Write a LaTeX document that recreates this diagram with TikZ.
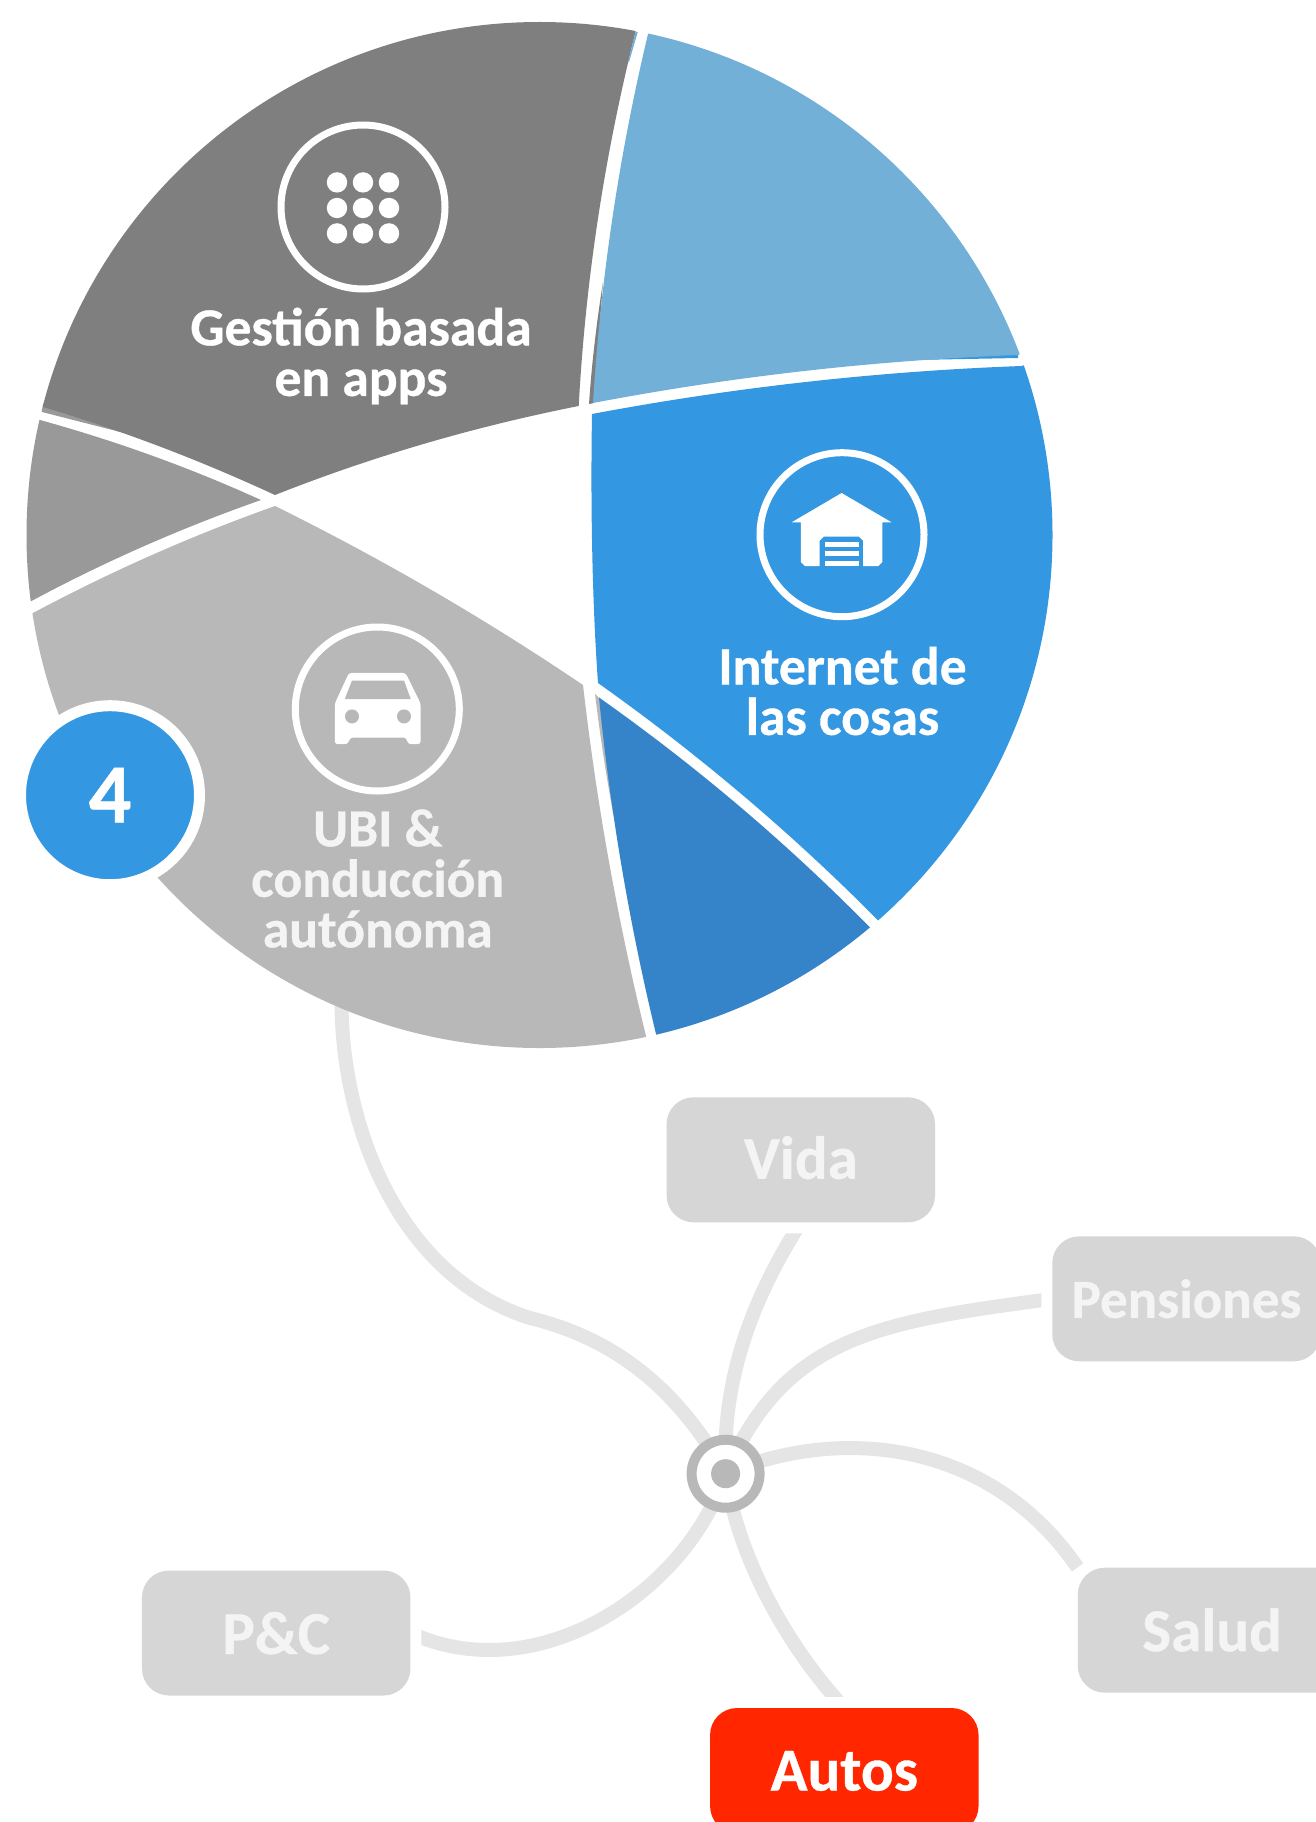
\documentclass[tikz,border=0pt]{standalone}
\usepackage{fontspec}
\setmainfont[BoldFeatures={FakeBold=0.6}]{Carlito}
\usetikzlibrary{backgrounds}
\definecolor{cDark}{HTML}{7F7F7F}
\definecolor{cMid}{HTML}{999999}
\definecolor{cLight}{HTML}{B8B8B8}
\definecolor{cBlue}{HTML}{3397E1}
\definecolor{cBlueD}{HTML}{3583C9}
\definecolor{cBlueL}{HTML}{72B0D8}
\definecolor{cBox}{HTML}{D6D6D6}
\definecolor{cLine}{HTML}{E5E5E5}
\definecolor{cRed}{HTML}{FF2600}
\definecolor{cText}{HTML}{F4F4F4}
\tikzset{
  iconring/.style={circle,draw=white,line width=7pt,minimum size=164pt,inner sep=0pt},
  pielabel/.style={align=center,text=white,font=\bfseries\fontsize{53.6}{50.5}\selectfont,inner sep=0pt},
  catbox/.style={rectangle,rounded corners=27pt,minimum width=268.5pt,minimum height=125pt,inner sep=0pt,
    fill=cBox,text=cText,text height=38pt,text depth=0pt,font=\bfseries\fontsize{61}{61}\selectfont,
    preaction={draw=white,line width=22pt}},
  conn/.style={draw=cLine,line width=14pt},
}
\begin{document}
\begin{tikzpicture}[x=1pt,y=-1pt]
\useasboundingbox (0,0) rectangle (1316,1822);

% ---- pie slices ----
\begin{scope}
\clip (539.5,535) circle[radius=513];
% slivers under the slices
\fill[cDark] (589,404) .. controls (592,360) and (597,320) .. (603,282) -- (594,403) -- cycle;
\fill[cBlue] (1018,351) .. controls (970,353) and (920,356) .. (860,361) -- (1018,358) -- cycle;
\fill[cMid] (40,402) .. controls (75,413) and (110,425) .. (140,437) -- (42,412) -- cycle;
\fill[cLight] (595,694) .. controls (600,735) and (606,775) .. (613.6,816) -- (601,700) -- cycle;
% dark grey
\fill[cDark] (635.5,32) .. controls (604.6,155) and (585.6,279.5) .. (578.7,406)
  .. controls (475,426.5) and (373.5,456) .. (275,495)
  .. controls (199.5,460) and (122,430.5) .. (43,407)
  -- (-100,370) -- (-100,-100) -- (661,-100) -- cycle;
\fill[cBlueL] (635.5,32) -- (637.8,32) -- (629,62) -- (628,62) -- cycle;
% mid grey
\fill[cMid] (40,420) .. controls (116,441) and (189.5,467.5) .. (261,500)
  .. controls (182,527.7) and (105.4,561.3) .. (31.5,601)
  -- (-100,618) -- (-100,388) -- cycle;
% light grey
\fill[cLight] (33,613) .. controls (111,571.3) and (191.6,535.7) .. (275,506)
  .. controls (381.7,558.7) and (484.3,618.3) .. (583,685)
  .. controls (596.6,803.3) and (617.6,920.3) .. (646,1036)
  -- (670,1150) -- (-100,1150) -- (-100,634) -- cycle;
% dark blue
\fill[cBlueD] (599,697.5) .. controls (696,766) and (786.3,842.5) .. (869.5,927)
  -- (950,1022) -- (950,1150) -- (670,1150) -- (656,1034)
  .. controls (629.2,923.1) and (610.2,811) .. (599,697.5) -- cycle;
% bright blue
\fill[cBlue] (592,414) .. controls (590.5,500) and (592,600) .. (598,683)
  .. controls (698.2,754) and (791.5,833) .. (877.7,920)
  -- (950,1000) -- (1150,1000) -- (1150,321) -- (1021.7,366)
  .. controls (877.3,371.3) and (734,387.3) .. (592,414) -- cycle;
% light blue
\fill[cBlueL] (648,34) -- (680,-100) -- (1150,-100) -- (1150,305) -- (1017.7,355)
  .. controls (875,360.3) and (733.4,376.3) .. (593,403)
  .. controls (600.7,278.4) and (619,155.4) .. (648,34) -- cycle;
\end{scope}

% ---- apps icon ----
\node[iconring] (ringApps) at (363,207) {};
\foreach \dx in {337,363,389}
  \foreach \dy in {182.4,208,233.4}
    \fill[white] (\dx,\dy) circle[radius=10.2];
\node[pielabel] (lblApps) at (361,356) {Gestión basada\\en apps};

% ---- house icon ----
\node[iconring] (ringHome) at (842,534.7) {};
\fill[white] (841.6,493) -- (891.7,522.4) -- (882.4,522.4) -- (882.4,562) -- (878.4,566) -- (863,566) -- (863,540.7) -- (859,536.7) -- (823.7,536.7) -- (819.7,540.7) -- (819.7,566) -- (804.8,566) -- (800.8,562) -- (800.8,522.4) -- (791.5,522.4) -- cycle;
\fill[white] (824.7,541.6) rectangle (858.5,547);
\fill[white] (824.7,551.4) rectangle (858.5,556);
\fill[white] (824.7,561) rectangle (858.5,566);
\node[pielabel] (lblHome) at (842.5,691) {Internet de\\las cosas};

% ---- car icon ----
\node[iconring] (ringCar) at (377.3,709) {};
\fill[white,rounded corners=3pt] (349,672.8) -- (405.5,672.8) -- (420.6,703.5) -- (420.6,744.2) -- (408,744.2) -- (406.3,737.5) -- (350,737.5) -- (348,744.2) -- (334.8,744.2) -- (334.8,703.5) -- cycle;
\fill[cLight] (352,680.5) -- (404,680.5) -- (410.7,699) -- (344.8,699) -- cycle;
\fill[cLight] (352,716.4) circle[radius=7];
\fill[cLight] (404,716.4) circle[radius=7];
\node[pielabel,text=cText] (lblCar) at (377.7,878.5) {UBI \&\\conducción\\autónoma};

% ---- number badge ----
\node[circle,draw=white,line width=11pt,fill=cBlue,minimum size=179pt,inner sep=0pt,text=white,
  font=\bfseries\fontsize{84}{84}\selectfont] (badge) at (110,795.2) {\raisebox{-2.5pt}{4}};

% ---- hub and categories ----
\node[circle,draw=cLight,line width=10pt,fill=white,minimum size=68pt,inner sep=0pt] (hub) at (725.6,1473.7) {};
\node[circle,fill=cLight,minimum size=29pt,inner sep=0pt] (hubDot) at (hub) {};
\node[catbox] (vida) at (800.8,1159.8) {Vida};
\node[catbox,font=\bfseries\fontsize{55}{55}\selectfont] (pens) at (1186.5,1298.8) {Pensiones};
\node[catbox,text height=42pt] (salud) at (1212,1630.2) {Salud};
\node[catbox,fill=cRed,text=white,text height=40pt] (autos) at (844.3,1770.5) {Autos};
\node[catbox,text height=42pt] (pc) at (276.2,1633) {P\&C};
\coordinate (pieFoot) at (341.5,1000);

\begin{pgfonlayer}{background}
  \draw[conn] (pieFoot) .. controls (341,1120) and (395,1275) .. (530,1318)
    .. controls (600,1335) and (670,1375) .. (hub.center);
  \draw[conn] (hub.center) .. controls (722,1390) and (745,1310) .. (vida.south);
  \draw[conn] (hub.center) .. controls (785,1335) and (880,1322) .. (pens.west);
  \draw[conn] (hub.center) .. controls (840,1425) and (990,1440) .. (salud.north west);
  \draw[conn] (hub.center) .. controls (738,1560) and (790,1650) .. (autos.north);
  \draw[conn] (hub.center) .. controls (685,1595) and (535,1690) .. (pc.east);
\end{pgfonlayer}
\end{tikzpicture}
\end{document}
